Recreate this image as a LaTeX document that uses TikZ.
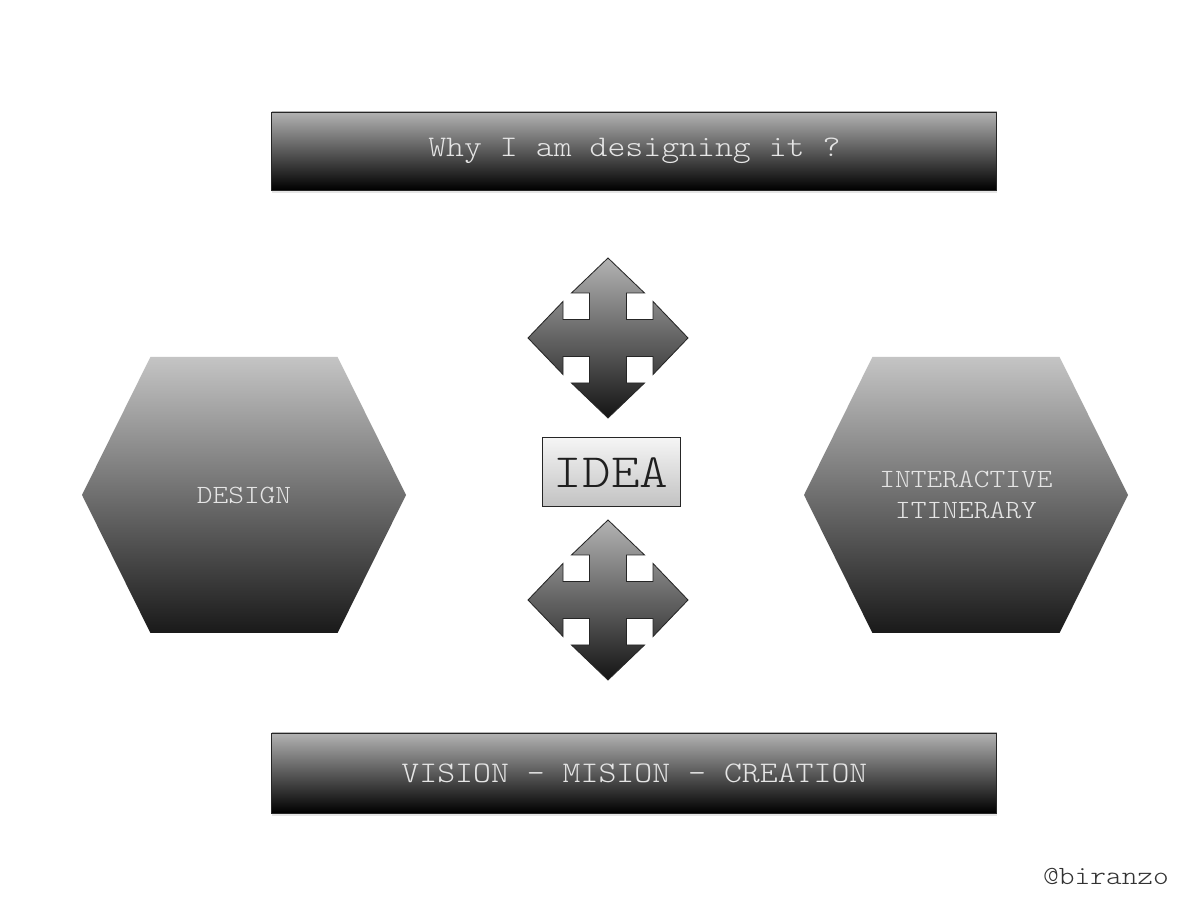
\documentclass[tikz,border=0pt]{standalone}
\usepackage{fontspec}
\setmonofont{lmmonolt10-regular.otf}[FakeStretch=1.14]
\usetikzlibrary{positioning, shadows}
\tikzset{
	bar/.style={
		draw=black!85,
		line width=0.6pt,
		top color=black!30,
		middle color=black!52,
		bottom color=black,
		minimum width=18.125cm,
		minimum height=1.95cm,
		text=black!10,
		font=\ttfamily\fontsize{21.3}{25}\selectfont,
		drop shadow={opacity=0.2, shadow xshift=0pt, shadow yshift=-2pt}
	},
	hexa/.style={
		top color=black!23,
		middle color=black!50,
		bottom color=black!90
	},
	hextext/.style={
		text=black!10,
		align=center,
		font=\ttfamily\fontsize{18.7}{22}\selectfont
	},
	quad/.style={
		draw=black!85,
		line width=0.6pt,
		top color=black!30,
		middle color=black!56,
		bottom color=black!92
	},
	ideabox/.style={
		draw=black!85,
		line width=0.6pt,
		top color=black!4,
		bottom color=black!24,
		minimum width=3.45cm,
		minimum height=1.725cm,
		text=black!88,
		font=\ttfamily\fontsize{34}{38}\selectfont
	}
}

\begin{document}
\begin{tikzpicture}
		\fill[white] (0,0) rectangle (30,22.5);
		\useasboundingbox (0,0) rectangle (30,22.5);
		
		\node[bar] (why) at (15.86,18.725) {Why I am designing it ?};
		\node[bar, minimum height=2cm] (vision) at (15.86,3.175) {VISION - MISION - CREATION};
		
		\coordinate (D) at (6.1,10.125);
		\coordinate (I) at (24.15,10.125);
		\foreach \h in {D, I} {
			\path[hexa, shift={(\h)}] (-4.05,0) -- (-2.34,3.45) -- (2.34,3.45) -- (4.05,0) -- (2.34,-3.45) -- (-2.34,-3.45) -- cycle;
		}
		\node[hextext] (design) at (D) {DESIGN};
		\node[hextext] (itinerary) at (I) {INTERACTIVE\\ITINERARY};
		
		\coordinate (up) at (15.2,14.05);
		\coordinate (down) at (15.2,7.5);
		\foreach \c in {up, down} {
			\path[quad, shift={(\c)}] (0,2) -- (0.9125,1.125) -- (0.4625,1.125) -- (0.4625,0.4625)
				-- (1.125,0.4625) -- (1.125,0.9125) -- (2,0) -- (1.125,-0.9125) -- (1.125,-0.4625)
				-- (0.4625,-0.4625) -- (0.4625,-1.125) -- (0.9125,-1.125) -- (0,-2)
				-- (-0.9125,-1.125) -- (-0.4625,-1.125) -- (-0.4625,-0.4625) -- (-1.125,-0.4625)
				-- (-1.125,-0.9125) -- (-2,0) -- (-1.125,0.9125) -- (-1.125,0.4625)
				-- (-0.4625,0.4625) -- (-0.4625,1.125) -- (-0.9125,1.125) -- cycle;
		}
		\node[ideabox] (idea) at (15.275,10.69) {IDEA};
		
		\node[text=black!80, font=\ttfamily\fontsize{18.7}{22}\selectfont] (handle) at (27.65,0.6) {@biranzo};
		\end{tikzpicture}
\end{document}
